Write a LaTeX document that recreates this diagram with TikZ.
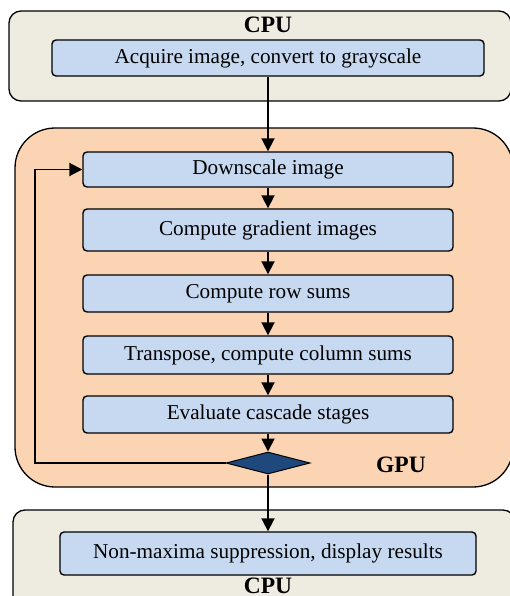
\documentclass[tikz,border=0pt]{standalone}
\usepackage{fontspec}
\setmainfont{Liberation Serif}
\usetikzlibrary{shapes.geometric,arrows.meta}
\definecolor{cpubg}{HTML}{EEEBE0}
\definecolor{gpubg}{HTML}{FBD4B4}
\definecolor{stepbg}{HTML}{C6D9F1}
\definecolor{diabg}{HTML}{1F497D}
\begin{document}
\begin{tikzpicture}[x=1pt,y=-1pt,
  container/.style={draw=black,line width=1.3pt,inner sep=0pt},
  stepbox/.style={draw=black,fill=stepbg,line width=1.4pt,rounded corners=4pt,inner sep=0pt,
    font=\fontsize{21.2}{25}\selectfont},
  lbl/.style={font=\fontsize{23.5}{26}\selectfont\bfseries,inner sep=0pt},
  arr/.style={line width=1.9pt,-{Triangle[length=13pt,width=13pt]}}]
\useasboundingbox (0,0) rectangle (510,596);
\clip (0,0) rectangle (510,596);
% containers
\node[container,fill=cpubg,rounded corners=12pt,minimum width=502pt,minimum height=90pt] (cpu1) at (260,56) {};
\node[container,fill=gpubg,rounded corners=40pt,minimum width=498pt,minimum height=359pt] (gpu) at (264,307.5) {};
\node[container,fill=cpubg,rounded corners=12pt,minimum width=502pt,minimum height=110pt] (cpu2) at (264,565) {};
% labels
\node[lbl] (l1) at (268,25) {CPU};
\node[lbl] (l2) at (401,465) {GPU};
\node[lbl] (l3) at (268,586) {CPU};
% steps
\node[stepbox,minimum width=432pt,minimum height=36pt] (acq) at (268,58) {Acquire image, convert to grayscale};
\node[stepbox,minimum width=370pt,minimum height=35pt] (ds) at (268,169.5) {Downscale image};
\node[stepbox,minimum width=370pt,minimum height=42pt] (gr) at (268,230) {Compute gradient images};
\node[stepbox,minimum width=370pt,minimum height=37pt] (rs) at (268,293.5) {Compute row sums};
\node[stepbox,minimum width=370pt,minimum height=38pt] (tr) at (268,355) {Transpose, compute column sums};
\node[stepbox,minimum width=370pt,minimum height=37pt] (ev) at (268,414.5) {Evaluate cascade stages};
\node[diamond,draw=black,line width=1pt,fill=diabg,inner sep=0pt,minimum width=84pt,minimum height=22pt] (dia) at (268,463) {};
\node[stepbox,minimum width=416pt,minimum height=43pt] (nm) at (268,553.5) {Non-maxima suppression, display results};
\coordinate (fbx) at (35,0);
% connectors
\draw[arr] (acq) -- (ds);
\draw[arr] (ds) -- (gr);
\draw[arr] (gr) -- (rs);
\draw[arr] (rs) -- (tr);
\draw[arr] (tr) -- (ev);
\draw[arr] (ev) -- (dia);
\draw[arr] (dia) -- (nm);
\draw[arr] (dia.west) -- (dia.west -| fbx) |- (ds.west);
\end{tikzpicture}
\end{document}
